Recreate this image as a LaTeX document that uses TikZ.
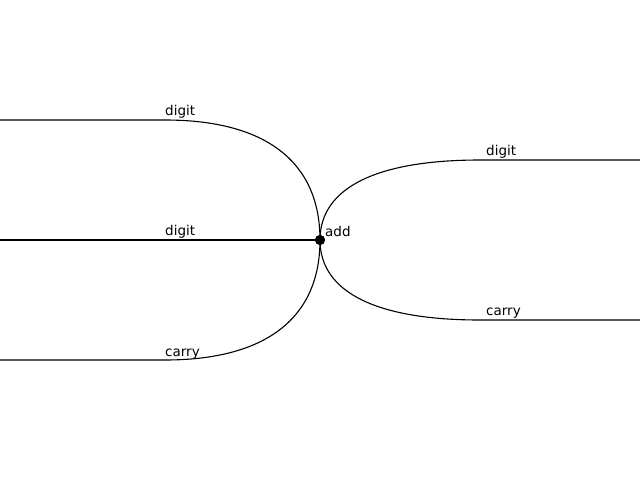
\documentclass[tikz,border=0pt]{standalone}
\usepackage{fontspec}
\setmainfont{DejaVu Sans}
\begin{document}
\begin{tikzpicture}[x=1pt,y=-1pt,
  wire/.style={line width=1.1pt,black},
  lbl/.style={anchor=base west,inner sep=0pt,font=\fontsize{13.5}{16}\selectfont},
  hub/.style={circle,fill=black,inner sep=0pt,minimum size=10pt}]
\useasboundingbox (0,0) rectangle (640,480);
\node[hub] (add) at (320,240) {};
\coordinate (l1) at (0,120);
\coordinate (l1b) at (165,120);
\coordinate (l2) at (0,240);
\coordinate (l3) at (0,360);
\coordinate (l3b) at (165,360);
\coordinate (r1) at (640,160);
\coordinate (r1b) at (480,160);
\coordinate (r2) at (640,320);
\coordinate (r2b) at (480,320);
\draw[wire] (l1) -- (l1b) .. controls (266,120) and (320,162) .. (add.center);
\draw[wire] (l2) -- (add.center);
\draw[wire] (l3) -- (l3b) .. controls (266,360) and (320,318) .. (add.center);
\draw[wire] (r1) -- (r1b) .. controls (376,160) and (320,188) .. (add.center);
\draw[wire] (r2) -- (r2b) .. controls (376,320) and (320,292) .. (add.center);
\node[hub] at (add) {};
\node[lbl] (t1) at (165,115) {digit};
\node[lbl] (t2) at (165,235) {digit};
\node[lbl] (t3) at (165,356) {carry};
\node[lbl] (t4) at (486,155) {digit};
\node[lbl] (t5) at (486,315) {carry};
\node[lbl] (t6) at (325,236) {add};
\end{tikzpicture}
\end{document}
